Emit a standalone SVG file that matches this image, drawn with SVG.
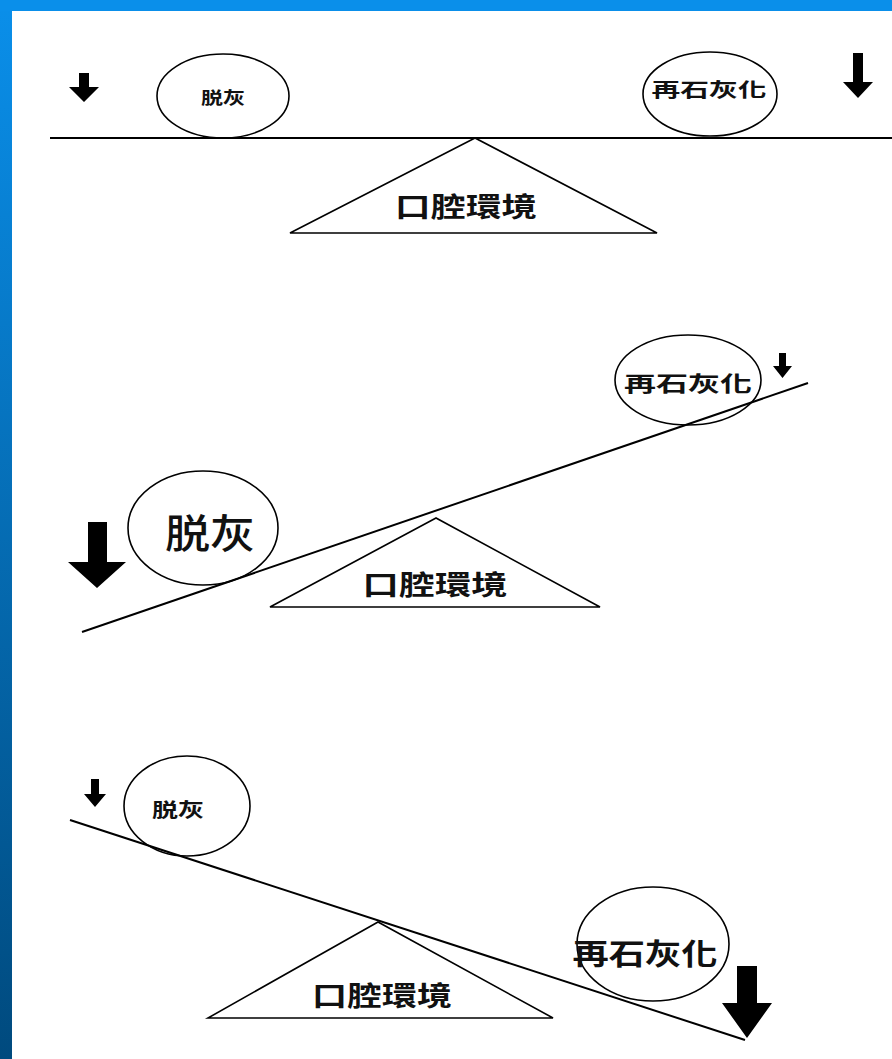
<svg xmlns="http://www.w3.org/2000/svg" width="892" height="1059" viewBox="0 0 892 1059">
<style>
.ln{stroke:#000;stroke-width:2;fill:none}
.sh{stroke:#000;stroke-width:1.6;fill:none}
.t{font-family:"Noto Sans CJK TC","Noto Sans CJK SC",sans-serif;font-weight:bold;fill:#111;text-anchor:middle;dominant-baseline:central}
.ar{fill:#000}
</style>
<defs>
<linearGradient id="side" x1="0" y1="0" x2="0" y2="1">
<stop offset="0" stop-color="#0A8FEA"/>
<stop offset="1" stop-color="#004A7E"/>
</linearGradient>
</defs>
<rect width="892" height="1059" fill="#fff"/>
<rect x="0" y="0" width="12" height="1059" fill="url(#side)"/>
<rect x="0" y="0" width="892" height="11" fill="#0A8FEA"/>

<g id="panel1">
<g id="p1-beam"><line class="ln" x1="50" y1="138" x2="892" y2="138"/></g>
<g id="p1-fulcrum"><polygon class="sh" points="475,138 290,233 657,233"/><text class="t" x="466" y="205" font-size="27" textLength="142" lengthAdjust="spacingAndGlyphs">口腔環境</text></g>
<g id="p1-demin"><ellipse class="sh" cx="223" cy="96" rx="66" ry="42"/><text class="t" x="223" y="96" font-size="17" textLength="44" lengthAdjust="spacingAndGlyphs">脱灰</text></g>
<g id="p1-remin"><ellipse class="sh" cx="710" cy="94" rx="67" ry="42"/><text class="t" x="709" y="88" font-size="19" textLength="115" lengthAdjust="spacingAndGlyphs">再石灰化</text></g>
<g id="p1-arrowL"><polygon class="ar" points="79,73 89,73 89,87 99,87 84,102 69,87 79,87"/></g>
<g id="p1-arrowR"><polygon class="ar" points="853,53 863,53 863,82 873,82 858,98 843,82 853,82"/></g>
</g>

<g id="panel2">
<g id="p2-beam"><line class="ln" x1="82" y1="632" x2="808" y2="383"/></g>
<g id="p2-fulcrum"><polygon class="sh" points="436,518 270,607 600,607"/><text class="t" x="435" y="583" font-size="27" textLength="145" lengthAdjust="spacingAndGlyphs">口腔環境</text></g>
<g id="p2-demin"><ellipse class="sh" cx="203" cy="528" rx="75" ry="57"/><text class="t" x="210" y="531" font-size="40" style="font-weight:500" textLength="90" lengthAdjust="spacingAndGlyphs">脱灰</text></g>
<g id="p2-remin"><ellipse class="sh" cx="688" cy="380" rx="73" ry="45"/><text class="t" x="688" y="382" font-size="21" textLength="128" lengthAdjust="spacingAndGlyphs">再石灰化</text></g>
<g id="p2-arrowL"><polygon class="ar" points="88,522 107,522 107,562 126,562 97,588 68,562 88,562"/></g>
<g id="p2-arrowR"><polygon class="ar" points="779,353 786,353 786,366 792,366 782.5,378 773,366 779,366"/></g>
</g>

<g id="panel3">
<g id="p3-beam"><line class="ln" x1="70" y1="820" x2="745" y2="1040"/></g>
<g id="p3-fulcrum"><polygon class="sh" points="378,922 208,1018 553,1018"/><text class="t" x="382" y="994" font-size="27" textLength="140" lengthAdjust="spacingAndGlyphs">口腔環境</text></g>
<g id="p3-demin"><ellipse class="sh" cx="187" cy="806" rx="63" ry="50"/><text class="t" x="178" y="808" font-size="19" textLength="52" lengthAdjust="spacingAndGlyphs">脱灰</text></g>
<g id="p3-remin"><ellipse class="sh" cx="653" cy="944" rx="76" ry="57"/><text class="t" x="645" y="952" font-size="29" textLength="145" lengthAdjust="spacingAndGlyphs">再石灰化</text></g>
<g id="p3-arrowL"><polygon class="ar" points="91,779 99,779 99,794 106,794 95,807 84,794 91,794"/></g>
<g id="p3-arrowR"><polygon class="ar" points="737,966 757,966 757,1003 772,1003 747,1038 722,1003 737,1003"/></g>
</g>
</svg>
